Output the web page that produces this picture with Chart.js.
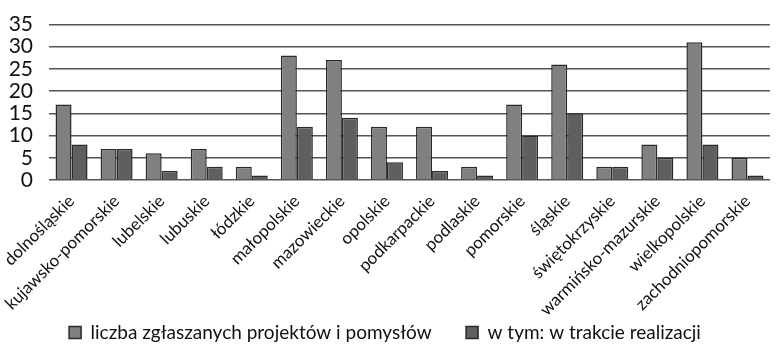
<!DOCTYPE html>
<html>
<head>
<meta charset="utf-8">
<script src="https://cdn.jsdelivr.net/npm/chart.js@4"></script>
<style>
  body { margin: 0; background: #fff; }
  #wrap { width: 776px; height: 352px; }
</style>
</head>
<body>
<div id="wrap"><canvas id="chart" width="776" height="352"></canvas></div>
<script>
const regions = ['dolnośląskie', 'kujawsko-pomorskie', 'lubelskie', 'lubuskie', 'łódzkie',
  'małopolskie', 'mazowieckie', 'opolskie', 'podkarpackie', 'podlaskie', 'pomorskie',
  'śląskie', 'świętokrzyskie', 'warmińsko-mazurskie', 'wielkopolskie', 'zachodniopomorskie'];
const submitted = [17, 7, 6, 7, 3, 28, 27, 12, 12, 3, 17, 26, 3, 8, 31, 5];
const inProgress = [8, 7, 2, 3, 1, 12, 14, 4, 2, 1, 10, 15, 3, 5, 8, 1];
const yTicks = [0, 5, 10, 15, 20, 25, 30, 35];

document.addEventListener('DOMContentLoaded', function() {
  const ctx = document.getElementById('chart').getContext('2d');
  new Chart(ctx, {
    type: 'bar',
    data: {
      labels: regions,
      datasets: [
        {
          label: 'liczba zgłaszanych projektów i pomysłów',
          data: submitted,
          backgroundColor: '#808080',
          borderColor: '#2a2a2a',
          borderWidth: 1.5,
          categoryPercentage: 0.71,
          barPercentage: 1.0
        },
        {
          label: 'w tym: w trakcie realizacji',
          data: inProgress,
          backgroundColor: '#5f5f5f',
          borderColor: '#2a2a2a',
          borderWidth: 1.5,
          categoryPercentage: 0.71,
          barPercentage: 1.0
        }
      ]
    },
    options: {
      responsive: false,
      animation: false,
      layout: { padding: { top: 0, right: 6, left: 0, bottom: 0 } },
      plugins: {
        legend: {
          position: 'bottom',
          labels: {
            boxWidth: 12,
            boxHeight: 12,
            padding: 6,
            color: '#111',
            font: { family: 'Lato', size: 19 },
            generateLabels: function(chart) {
              const items = Chart.defaults.plugins.legend.labels.generateLabels(chart);
              // wider gap between the two entries, like the original
              items[0].text = items[0].text + '\u2003\u2003';
              return items;
            }
          }
        },
        tooltip: { enabled: false }
      },
      scales: {
        x: {
          grid: { display: false },
          border: { display: false },
          afterFit: function(axis) { axis.height = 137; },
          ticks: {
            color: '#111',
            minRotation: 45,
            maxRotation: 45,
            autoSkip: false,
            font: { family: 'Lato', size: 17 }
          }
        },
        y: {
          min: 0,
          max: 35,
          afterBuildTicks: function(axis) {
            axis.ticks = yTicks.map(v => ({ value: v }));
          },
          afterFit: function(axis) { axis.width = 49; },
          grid: { color: '#555', lineWidth: 1.5, drawTicks: false },
          border: { display: false },
          ticks: {
            color: '#111',
            padding: 16,
            autoSkip: false,
            font: { family: 'Lato', size: 21, lineHeight: 0.8 }
          }
        }
      }
    }
  });
});
</script>
</body>
</html>
